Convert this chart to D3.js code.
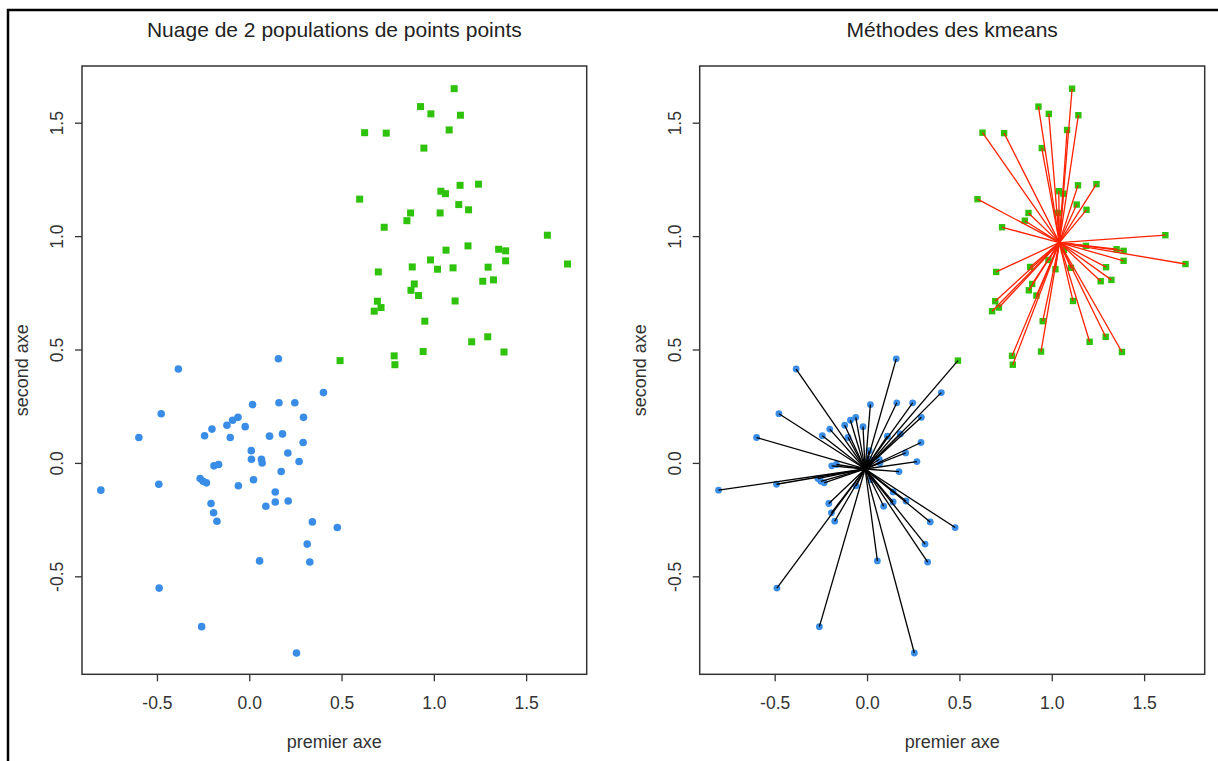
<!DOCTYPE html>
<html>
<head>
<meta charset="utf-8">
<script src="https://cdn.jsdelivr.net/npm/d3@7"></script>
<style>
  html, body { margin: 0; padding: 0; background: #fff; }
  svg { display: block; font-family: "Liberation Sans", Arial, Helvetica, sans-serif; }
</style>
</head>
<body>
<svg id="chart" width="1218" height="761"></svg>
<script>
// Population 1 (blue circles)
const pop1X = [0.158, -0.384, 0.402, 0.018, 0.161, 0.247, -0.477, 0.294, -0.061, -0.090,
  -0.121, -0.022, -0.202, -0.242, -0.103, -0.598, 0.110, 0.180, 0.292, 0.011,
  0.209, 0.012, 0.066, 0.070, 0.270, -0.166, -0.191, 0.173, -0.266, -0.250,
  -0.232, 0.023, -0.490, -0.059, -0.804, 0.141, -0.207, 0.141, 0.211, 0.090,
  -0.193, -0.175, 0.342, 0.477, 0.314, 0.056, 0.328, -0.488, -0.258, 0.256];
const pop1Y = [0.459, 0.414, 0.310, 0.257, 0.265, 0.265, 0.217, 0.201, 0.201, 0.188,
  0.166, 0.160, 0.149, 0.120, 0.112, 0.112, 0.118, 0.128, 0.090, 0.054,
  0.044, 0.016, 0.016, 0.000, 0.006, -0.007, -0.013, -0.038, -0.069, -0.081,
  -0.088, -0.074, -0.094, -0.101, -0.120, -0.128, -0.179, -0.172, -0.168, -0.191,
  -0.220, -0.257, -0.260, -0.285, -0.358, -0.432, -0.437, -0.552, -0.722, -0.838];

// Population 2 (green squares)
const pop2X = [1.110, 0.928, 0.984, 1.144, 1.083, 0.625, 0.742, 0.946, 1.142, 1.242,
  1.038, 1.063, 0.598, 1.135, 1.188, 0.874, 1.034, 0.854, 0.731, 1.615,
  1.185, 1.066, 1.351, 1.389, 1.389, 0.982, 0.883, 1.020, 1.104, 1.294,
  1.724, 0.699, 0.894, 1.265, 1.323, 0.876, 0.917, 0.694, 0.714, 0.677,
  1.115, 0.951, 1.292, 1.205, 0.942, 1.380, 0.785, 0.789, 0.492];
const pop2Y = [1.650, 1.571, 1.539, 1.533, 1.468, 1.456, 1.454, 1.388, 1.224, 1.229,
  1.198, 1.187, 1.163, 1.139, 1.116, 1.102, 1.102, 1.068, 1.039, 1.004,
  0.957, 0.938, 0.942, 0.935, 0.891, 0.895, 0.864, 0.854, 0.860, 0.863,
  0.877, 0.842, 0.789, 0.801, 0.807, 0.761, 0.738, 0.713, 0.685, 0.669,
  0.714, 0.625, 0.556, 0.534, 0.491, 0.489, 0.472, 0.433, 0.451];

// Axis ticks
const xTicks = [-0.5, 0.0, 0.5, 1.0, 1.5];
const yTicks = [-0.5, 0.0, 0.5, 1.0, 1.5];
const tickLabels = ["-0.5", "0.0", "0.5", "1.0", "1.5"];

const titles = ["Nuage de 2 populations de points points", "Méthodes des kmeans"];
const xLabel = "premier axe";
const yLabel = "second axe";

const blue = "#3a8de6";
const green = "#2ec20a";

const points = [
  ...pop1X.map((x, i) => ({ x, y: pop1Y[i], pop: 1 })),
  ...pop2X.map((x, i) => ({ x, y: pop2Y[i], pop: 2 }))
];

// k-means (k = 2, Lloyd iterations starting from the population means)
function kmeans(pts) {
  let centers = [1, 2].map(p => {
    const s = pts.filter(d => d.pop === p);
    return { x: d3.mean(s, d => d.x), y: d3.mean(s, d => d.y) };
  });
  let assign = [];
  for (let it = 0; it < 50; it++) {
    const next = pts.map(d => {
      const d0 = (d.x - centers[0].x) ** 2 + (d.y - centers[0].y) ** 2;
      const d1 = (d.x - centers[1].x) ** 2 + (d.y - centers[1].y) ** 2;
      return d0 <= d1 ? 0 : 1;
    });
    centers = [0, 1].map(k => {
      const s = pts.filter((d, i) => next[i] === k);
      return { x: d3.mean(s, d => d.x), y: d3.mean(s, d => d.y) };
    });
    if (next.every((v, i) => v === assign[i])) break;
    assign = next;
  }
  return { centers, assign };
}
const km = kmeans(points);

const svg = d3.select("#chart");

// outer frame (left and top edges)
svg.append("path")
  .attr("d", "M8,761 L8,10 L1218,10")
  .attr("fill", "none").attr("stroke", "#000").attr("stroke-width", 2.5);

const plotTop = 66, plotBottom = 674.3;
const panels = [
  { left: 82, right: 586.7 },
  { left: 699.7, right: 1204.7 }
];

panels.forEach((p, pi) => {
  const x = d3.scaleLinear().domain([-0.906, 1.828]).range([p.left, p.right]);
  const y = d3.scaleLinear().domain([-0.932, 1.750]).range([plotBottom, plotTop]);
  const g = svg.append("g");
  const cx = (p.left + p.right) / 2;

  // title
  g.append("text").attr("x", cx).attr("y", 37).attr("text-anchor", "middle")
    .attr("font-size", 21).attr("fill", "#222").text(titles[pi]);

  // x axis
  const xa = g.append("g").attr("transform", `translate(0,${plotBottom})`)
    .call(d3.axisBottom(x).tickValues(xTicks).tickSize(7).tickSizeOuter(0)
      .tickFormat((d, i) => tickLabels[i]));
  xa.select(".domain").remove();
  xa.attr("font-family", null);
  xa.selectAll(".tick line").attr("stroke", "#333").attr("stroke-width", 1.3);
  xa.selectAll(".tick text").attr("font-size", 17.5).attr("fill", "#333")
    .attr("dy", null).attr("y", 35);

  // y axis
  const ya = g.append("g").attr("transform", `translate(${p.left},0)`)
    .call(d3.axisLeft(y).tickValues(yTicks).tickSize(7).tickSizeOuter(0)
      .tickFormat((d, i) => tickLabels[i]));
  ya.select(".domain").remove();
  ya.attr("font-family", null);
  ya.selectAll(".tick line").attr("stroke", "#333").attr("stroke-width", 1.3);
  ya.selectAll(".tick text").attr("font-size", 17.5).attr("fill", "#333")
    .attr("dy", null).attr("x", null)
    .attr("text-anchor", "middle")
    .attr("transform", "translate(-19,0) rotate(-90)");

  // axis titles
  g.append("text").attr("x", cx).attr("y", 748).attr("text-anchor", "middle")
    .attr("font-size", 18).attr("fill", "#333").text(xLabel);
  g.append("text").attr("text-anchor", "middle").attr("font-size", 18).attr("fill", "#333")
    .attr("transform", `translate(${p.left - 54},${(plotTop + plotBottom) / 2}) rotate(-90)`)
    .text(yLabel);

  // plot box
  g.append("rect").attr("x", p.left).attr("y", plotTop)
    .attr("width", p.right - p.left).attr("height", plotBottom - plotTop)
    .attr("fill", "none").attr("stroke", "#333").attr("stroke-width", 1.5);

  const r = pi === 0 ? 3.8 : 3.4;
  const s = pi === 0 ? 7 : 6.4;

  g.selectAll("circle.p1").data(points.filter(d => d.pop === 1)).join("circle")
    .attr("cx", d => x(d.x)).attr("cy", d => y(d.y)).attr("r", r).attr("fill", blue);
  g.selectAll("rect.p2").data(points.filter(d => d.pop === 2)).join("rect")
    .attr("x", d => x(d.x) - s / 2).attr("y", d => y(d.y) - s / 2)
    .attr("width", s).attr("height", s).attr("fill", green);

  if (pi === 1) {
    // segments from each point to its cluster centre
    const lineColor = ["#000", "#ff2200"];
    g.selectAll("line.seg").data(points).join("line")
      .attr("x1", (d, i) => x(km.centers[km.assign[i]].x))
      .attr("y1", (d, i) => y(km.centers[km.assign[i]].y))
      .attr("x2", d => x(d.x)).attr("y2", d => y(d.y))
      .attr("stroke", (d, i) => lineColor[km.assign[i]])
      .attr("stroke-width", 1.3);
  }
});
</script>
</body>
</html>
